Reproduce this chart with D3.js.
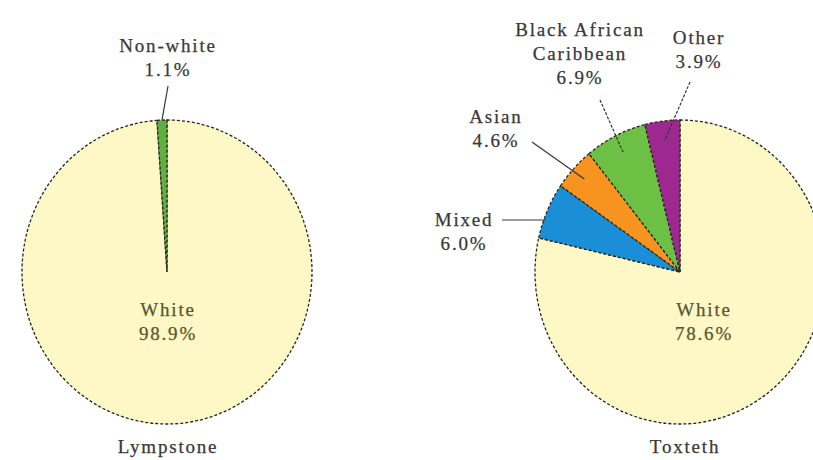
<!DOCTYPE html>
<html>
<head>
<meta charset="utf-8">
<script src="https://cdn.jsdelivr.net/npm/d3@7"></script>
<style>
  html, body { margin: 0; padding: 0; background: #fff; }
  svg { display: block; }
</style>
</head>
<body>
<svg id="main_svg"></svg>
<script>
const WIDTH = 813;
const HEIGHT = 460;
const RX = 145;
const RY = 152;
const LINE_H = 24;

// Lympstone
const lympCategories = ['White', 'Non-white'];
const lympValues = [98.9, 1.1];
const lympColors = ['#fef8c6', '#5fb040'];

// Toxteth
const toxCategories = ['White', 'Mixed', 'Asian', 'Black African Caribbean', 'Other'];
const toxValues = [78.6, 6.0, 4.6, 6.9, 3.9];
const toxColors = ['#fef8c6', '#1a8fd8', '#f7941f', '#6cc043', '#9d2890'];

const svg = d3.select('#main_svg').attr('width', WIDTH).attr('height', HEIGHT);

const pie = d3.pie().sort(null).value(d => d.value);
const arc = d3.arc().innerRadius(0).outerRadius(RX);

// point on the (slightly stretched) pie at mid angle of slice, fraction f of radius
const slicePoint = (cx, cy, d, f) => {
	const a = (d.startAngle + d.endAngle) / 2;
	return [cx + Math.sin(a) * RX * f, cy - Math.cos(a) * RY * f];
};

const draw_pie = (cx, cy, cats, vals, colors) => {
	const data = cats.map((c, i) => ({name: c, value: vals[i], color: colors[i]}));
	const arcs = pie(data);
	const g = svg.append('g').attr('transform', `translate(${cx},${cy}) scale(1,${RY / RX})`);
	g.selectAll('path.slice')
		.data(arcs)
		.enter()
		.append('path')
		.attr('class', 'slice')
		.attr('d', arc)
		.attr('fill', d => d.data.color)
		.attr('stroke', '#26261c')
		.attr('stroke-width', 1.3)
		.attr('stroke-dasharray', '3,2')
		.attr('vector-effect', 'non-scaling-stroke');
	return arcs;
};

const text_lines = (x, y, lines, color) => {
	const t = svg.append('text')
		.attr('font-family', '"Liberation Serif", "Times New Roman", serif')
		.attr('font-size', '19px')
		.attr('letter-spacing', '1.8px')
		.attr('fill', color)
		.attr('stroke', color)
		.attr('stroke-width', 0.25)
		.attr('text-anchor', 'middle');
	lines.forEach((l, i) => {
		t.append('tspan').attr('x', x + 1).attr('y', y + i * LINE_H).text(l);
	});
	return t;
};

const leader = (p1, p2, dashed) => {
	svg.append('line')
		.attr('x1', p1[0]).attr('y1', p1[1])
		.attr('x2', p2[0]).attr('y2', p2[1])
		.attr('stroke', '#363636')
		.attr('stroke-width', 1.2)
		.attr('stroke-dasharray', dashed ? '3,1.5' : null);
};

const OUTER = '#383838';
const INNER = '#58562c';

// --- Lympstone ---
const LX = 167, LY = 272;
const lArcs = draw_pie(LX, LY, lympCategories, lympValues, lympColors);
text_lines(LX, LY + 44, [lympCategories[0], lympValues[0].toFixed(1) + '%'], INNER);
text_lines(LX, 52, [lympCategories[1], lympValues[1].toFixed(1) + '%'], OUTER);
leader([LX + 1, 86], slicePoint(LX, LY, lArcs[1], 1.0), false);
text_lines(LX, 453, ['Lympstone'], OUTER);

// --- Toxteth ---
const TX = 680, TY = 272;
const tArcs = draw_pie(TX, TY, toxCategories, toxValues, toxColors);
const pct = i => toxValues[i].toFixed(1) + '%';
text_lines(TX + 23, TY + 44, [toxCategories[0], pct(0)], INNER);

// Mixed
text_lines(463, 226, [toxCategories[1], pct(1)], OUTER);
const mixY = 220;
const mixX = TX - RX * Math.sqrt(1 - Math.pow((mixY - TY) / RY, 2));
leader([502, mixY], [mixX + 2, mixY], false);

// Asian
text_lines(495, 123, [toxCategories[2], pct(2)], OUTER);
leader([532, 142], slicePoint(TX, TY, tArcs[2], 0.9), false);

// Black African Caribbean
text_lines(579, 36, ['Black African', 'Caribbean', pct(3)], OUTER);
leader([600, 100], slicePoint(TX, TY, tArcs[3], 0.88), true);

// Other
text_lines(698, 44, [toxCategories[4], pct(4)], OUTER);
leader([690, 82], slicePoint(TX, TY, tArcs[4], 0.87), true);

text_lines(TX + 4, 453, ['Toxteth'], OUTER);
</script>
</body>
</html>
